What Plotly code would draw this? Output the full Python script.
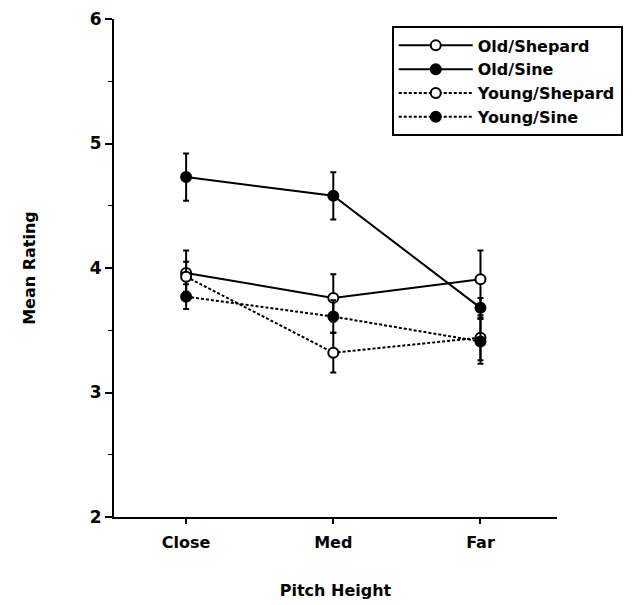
import plotly.graph_objects as go

categories = ["Close", "Med", "Far"]
series_names = ["Old/Shepard", "Old/Sine", "Young/Shepard", "Young/Sine"]
old_shepard = [3.96, 3.76, 3.91]
old_sine = [4.73, 4.58, 3.68]
young_shepard = [3.93, 3.32, 3.44]
young_sine = [3.77, 3.61, 3.41]
old_shepard_err = [0.18, 0.19, 0.23]
old_sine_err = [0.19, 0.19, 0.08]
young_shepard_err = [0.12, 0.16, 0.18]
young_sine_err = [0.10, 0.13, 0.18]
y_ticks = [2, 3, 4, 5, 6]

values = [old_shepard, old_sine, young_shepard, young_sine]
errors = [old_shepard_err, old_sine_err, young_shepard_err, young_sine_err]
dashes = ["solid", "solid", "3px,2px", "3px,2px"]
fills = ["white", "black", "white", "black"]

xpos = list(range(len(categories)))

fig = go.Figure()
for name, v, e, d, f in zip(series_names, values, errors, dashes, fills):
    fig.add_trace(go.Scatter(
        x=xpos, y=v, name=name, mode="lines+markers",
        line=dict(color="black", width=2, dash=d),
        marker=dict(symbol="circle", size=10, color=f, line=dict(color="black", width=2)),
        error_y=dict(type="data", array=e, visible=True, color="black", thickness=2, width=3),
    ))

font_family = "DejaVu Sans, sans-serif"
fig.update_layout(
    width=638, height=605,
    margin=dict(l=106, r=89, t=11, b=96),
    paper_bgcolor="white", plot_bgcolor="white",
    font=dict(family=font_family, color="black", size=16),
    showlegend=True,
    legend=dict(
        x=0.627, y=0.985, xanchor="left", yanchor="top",
        bordercolor="black", borderwidth=2, bgcolor="white",
        font=dict(family=font_family, size=16, color="black", weight="bold"),
        tracegroupgap=0, itemwidth=74,
    ),
    xaxis=dict(
        range=[-0.49, 2.52], tickvals=xpos, ticktext=categories, automargin=False,
        showline=True, linecolor="black", linewidth=2, showgrid=False, zeroline=False,
        ticks="outside", ticklen=5, tickwidth=2, tickcolor="black",
        tickfont=dict(size=16, weight="bold"), ticklabelstandoff=5,
        title=dict(text="Pitch Height", font=dict(size=16, weight="bold"), standoff=34),
    ),
    yaxis=dict(
        range=[2, 6], tickvals=y_ticks, automargin=False,
        showline=True, linecolor="black", linewidth=2, showgrid=False, zeroline=False,
        ticks="outside", ticklen=7, tickwidth=2, tickcolor="black",
        tickfont=dict(size=17, weight="bold"),
        minor=dict(dtick=0.5, ticks="outside", ticklen=4, tickwidth=1, tickcolor="black"),
        title=dict(text="Mean Rating", font=dict(size=16, weight="bold"), standoff=50),
    ),
)

fig.write_html("out.html")
